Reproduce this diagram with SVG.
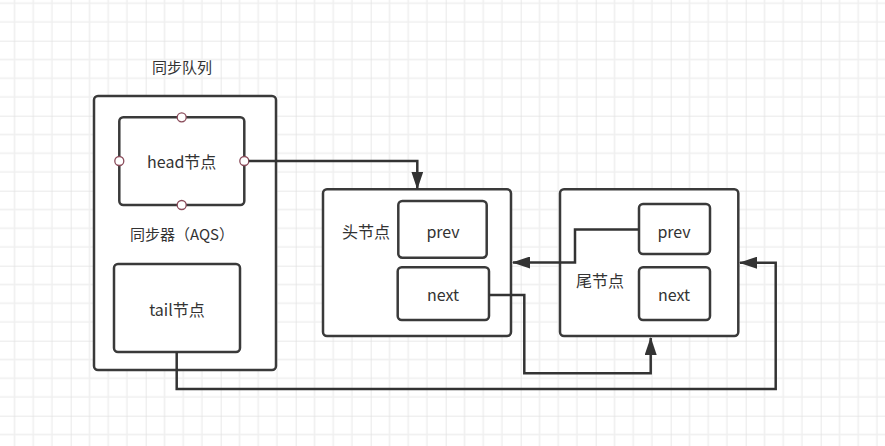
<svg xmlns="http://www.w3.org/2000/svg" width="885" height="446" viewBox="0 0 885 446">
<defs>
<pattern id="grid" patternUnits="userSpaceOnUse" x="-4.3" y="-34.3" width="75" height="75">
<path d="M18.75 0V75M37.5 0V75M56.25 0V75M0 18.75H75M0 37.5H75M0 56.25H75" stroke="#efefef" stroke-width="1.5" fill="none"/>
<path d="M0 0V75M0 0H75" stroke="#e2e2e2" stroke-width="1.5" fill="none"/>
</pattern>
<marker id="arr" viewBox="0 0 18 12" refX="17" refY="6" markerWidth="18" markerHeight="12" markerUnits="userSpaceOnUse" orient="auto">
<path d="M0 0L18 6L0 12Z" fill="#333"/>
</marker>
</defs>
<style>
.box{fill:#fff;stroke:#3a3a3a;stroke-width:2.5}
.t{font-family:"Noto Sans CJK SC","Liberation Sans",sans-serif;font-size:16px;fill:#333;text-anchor:middle;dominant-baseline:central}
.c{fill:none;stroke:#333;stroke-width:2.5}
.pt{fill:#fff;stroke:#8a4b5a;stroke-width:1.3}
</style>
<rect width="885" height="446" fill="#fff"/>
<rect width="885" height="446" fill="url(#grid)"/>

<g id="queue-label"><text class="t" x="182" y="66" style="font-size:15px">同步队列</text></g>

<g id="aqs">
<rect class="box" x="94" y="96" width="182" height="274" rx="4"/>
<text class="t" x="182" y="233" style="font-size:15px">同步器（AQS）</text>
</g>

<g id="head">
<rect class="box" x="119.3" y="117.3" width="125" height="87.7" rx="4"/>
<text class="t" x="181.7" y="161">head节点</text>
<circle class="pt" cx="181.7" cy="117.3" r="4.5"/>
<circle class="pt" cx="181.7" cy="205" r="4.5"/>
<circle class="pt" cx="119.3" cy="161" r="4.5"/>
<circle class="pt" cx="244.3" cy="161" r="4.5"/>
</g>

<g id="tail">
<rect class="box" x="114" y="264" width="126" height="88" rx="4"/>
<text class="t" x="177" y="309">tail节点</text>
</g>

<g id="headNode">
<rect class="box" x="323" y="189.3" width="188" height="146.7" rx="4"/>
<text class="t" x="366" y="231">头节点</text>
</g>
<g id="headPrev">
<rect class="box" x="398.3" y="201" width="88.4" height="56.7" rx="4"/>
<text class="t" x="443" y="230.5">prev</text>
</g>
<g id="headNext">
<rect class="box" x="397.7" y="267.3" width="91.3" height="52.7" rx="4"/>
<text class="t" x="443" y="294">next</text>
</g>

<g id="tailNode">
<rect class="box" x="560" y="189.3" width="178.3" height="146.7" rx="4"/>
<text class="t" x="600" y="280">尾节点</text>
</g>
<g id="tailPrev">
<rect class="box" x="639" y="204" width="71" height="50" rx="4"/>
<text class="t" x="674" y="230.5">prev</text>
</g>
<g id="tailNext">
<rect class="box" x="639" y="267.3" width="71" height="52.7" rx="4"/>
<text class="t" x="674" y="294">next</text>
</g>

<g id="connectors">
<path class="c" d="M248.8 161H417.3V188.5" marker-end="url(#arr)"/>
<path class="c" d="M639 229.5H575V262.5H513" marker-end="url(#arr)"/>
<path class="c" d="M489 295H524.3V373.3H650.7V338" marker-end="url(#arr)"/>
<path class="c" d="M176.7 352V389H775.7V262.7H740" marker-end="url(#arr)"/>
</g>
</svg>
